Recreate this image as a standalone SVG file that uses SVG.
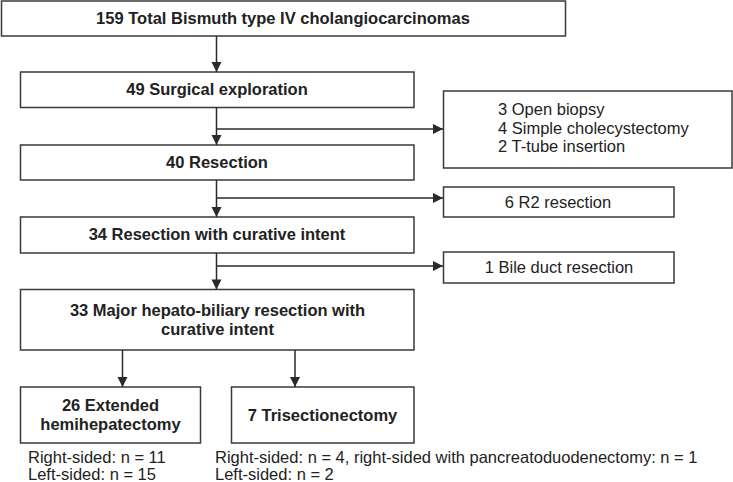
<svg xmlns="http://www.w3.org/2000/svg" width="733" height="482" viewBox="0 0 733 482">
<style>
.box{fill:#fff;stroke:#3a3a3a;stroke-width:1.5}
.b{font-family:"Liberation Sans",Arial,sans-serif;font-weight:bold;font-size:16.5px;fill:#222;text-anchor:middle}
.r{font-family:"Liberation Sans",Arial,sans-serif;font-size:16.5px;fill:#222}
.c{text-anchor:middle}
.ln{stroke:#2a2a2a;stroke-width:1.5;fill:none}
</style>
<defs>
<marker id="ah" markerUnits="userSpaceOnUse" markerWidth="12" markerHeight="12" viewBox="0 0 12 12" refX="11" refY="6" orient="auto">
<path d="M1,1 L11,6 L1,11 Z" fill="#2a2a2a"/>
</marker>
</defs>
<g id="n1"><rect class="box" x="1.5" y="1" width="564" height="35"/><text class="b" x="283" y="24">159 Total Bismuth type IV cholangiocarcinomas</text></g>
<g id="n2"><rect class="box" x="20.5" y="72" width="393.5" height="35.5"/><text class="b" x="217" y="95">49 Surgical exploration</text></g>
<g id="n3"><rect class="box" x="20.5" y="145" width="393.5" height="35"/><text class="b" x="217" y="168">40 Resection</text></g>
<g id="n4"><rect class="box" x="20.5" y="217" width="393.5" height="36"/><text class="b" x="217" y="240">34 Resection with curative intent</text></g>
<g id="n5"><rect class="box" x="20.5" y="289.5" width="393.5" height="60.5"/><text class="b" x="217.5" y="316">33 Major hepato-biliary resection with</text><text class="b" x="217.5" y="335">curative intent</text></g>
<g id="n6"><rect class="box" x="20.5" y="387" width="180" height="56"/><text class="b" x="110.5" y="411">26 Extended</text><text class="b" x="110.5" y="430">hemihepatectomy</text></g>
<g id="n7"><rect class="box" x="231.5" y="387" width="182.5" height="56"/><text class="b" x="322.5" y="421">7 Trisectionectomy</text></g>
<g id="n8"><rect class="box" x="443.5" y="91" width="288.5" height="77"/><text class="r" x="498" y="115">3 Open biopsy</text><text class="r" x="498" y="134">4 Simple cholecystectomy</text><text class="r" x="498" y="152">2 T-tube insertion</text></g>
<g id="n9"><rect class="box" x="443.5" y="187" width="230.5" height="30"/><text class="r c" x="558" y="208">6 R2 resection</text></g>
<g id="n10"><rect class="box" x="443.5" y="252" width="230.5" height="31"/><text class="r c" x="559" y="273">1 Bile duct resection</text></g>
<g id="notes"><text class="r" x="28" y="463">Right-sided: n = 11</text><text class="r" x="28" y="480">Left-sided: n = 15</text><text class="r" x="215" y="463">Right-sided: n = 4, right-sided with pancreatoduodenectomy: n = 1</text><text class="r" x="215" y="480">Left-sided: n = 2</text></g>
<g id="connectors">
<path class="ln" d="M216.5,36 V72" marker-end="url(#ah)"/>
<path class="ln" d="M216.5,107.5 V145" marker-end="url(#ah)"/>
<path class="ln" d="M216.5,129 H443" marker-end="url(#ah)"/>
<path class="ln" d="M216.5,180 V217" marker-end="url(#ah)"/>
<path class="ln" d="M216.5,198 H443" marker-end="url(#ah)"/>
<path class="ln" d="M216.5,253 V289.5" marker-end="url(#ah)"/>
<path class="ln" d="M216.5,266 H443" marker-end="url(#ah)"/>
<path class="ln" d="M122.5,350 V387" marker-end="url(#ah)"/>
<path class="ln" d="M295,350 V387" marker-end="url(#ah)"/>
</g>
</svg>
